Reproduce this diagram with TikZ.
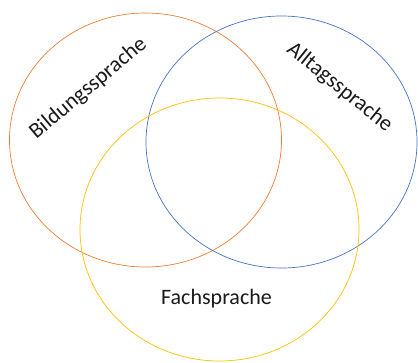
\documentclass[tikz,border=0pt]{standalone}
\usepackage{fontspec}
\setmainfont{Carlito}
\definecolor{cOrange}{HTML}{ED7D31}
\definecolor{cBlue}{HTML}{4472C4}
\definecolor{cGold}{HTML}{FFC000}
\definecolor{cText}{HTML}{1A1A1A}
\begin{document}
\begin{tikzpicture}[x=1pt,y=-1pt,
  ring/.style={line width=0.7pt},
  lbl/.style={font=\fontsize{22}{26}\selectfont, text=cText, inner sep=0pt, anchor=base}]
\useasboundingbox (0,0) rectangle (418,362);
\coordinate (cB) at (145.5,140);
\coordinate (cA) at (281.5,142);
\coordinate (cF) at (219.5,229.5);
\draw[ring, cOrange] (cB) ellipse [x radius=136, y radius=127];
\draw[ring, cBlue] (cA) ellipse [x radius=135.5, y radius=126];
\draw[ring, cGold] (cF) ellipse [x radius=139.5, y radius=131.5];
\node[lbl, rotate=40] (tB) at (92,93) {Bildungssprache};
\node[lbl, rotate=-39] (tA) at (336,92) {Alltagssprache};
\node[lbl] (tF) at (216.5,304) {Fachsprache};
\end{tikzpicture}
\end{document}
